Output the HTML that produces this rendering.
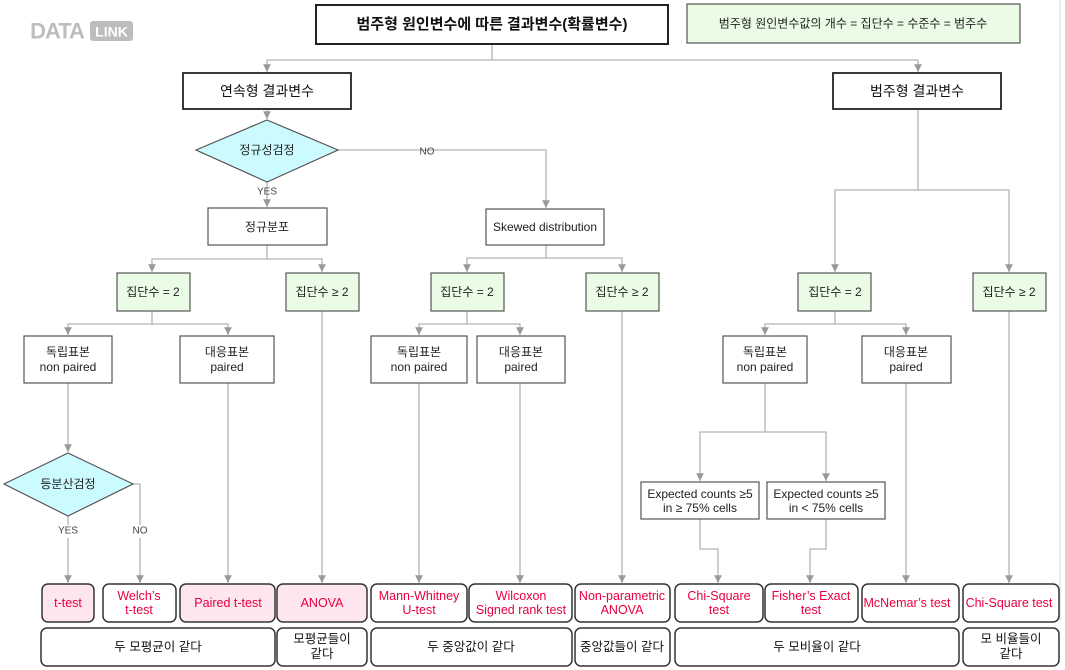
<!DOCTYPE html>
<html><head><meta charset="utf-8"><style>
html,body{margin:0;padding:0;background:#fff;width:1065px;height:670px;overflow:hidden}
svg{display:block}
text{font-family:"Liberation Sans","Noto Sans CJK KR",sans-serif;text-anchor:middle;dominant-baseline:central}
.ln{stroke:#b4b4b4;stroke-width:1.3;fill:none}
.bx{fill:#fff;stroke:#555;stroke-width:1.2}
.gr{fill:#eafbe6;stroke:#555;stroke-width:1.2}
.t12{font-size:12px;fill:#222}
.red{font-size:12.5px;fill:#e8003d}
.rb{fill:#fff;stroke:#333;stroke-width:1.5}
.pk{fill:#fde6f0;stroke:#333;stroke-width:1.5}
</style></head><body>
<svg width="1065" height="670" viewBox="0 0 1065 670">
<defs><marker id="a" markerWidth="6" markerHeight="6" refX="3" refY="5" orient="auto" markerUnits="userSpaceOnUse"><path d="M0,0 L6,0 L3,6z" fill="#999"/></marker>
<marker id="d" viewBox="0 0 6 6" markerWidth="6" markerHeight="6" refX="3" refY="6" orient="0"><path d="M0,0 L6,0 L3,6z" fill="#999"/></marker></defs>

<!-- logo -->
<text x="57" y="31" style="font-size:22px;font-weight:bold;fill:#bdbdbd;letter-spacing:-1px">DATA</text>
<rect x="90" y="21" width="43" height="20" rx="3" fill="#bdbdbd"/>
<text x="111.5" y="31.5" style="font-size:14px;font-weight:bold;fill:#fff">LINK</text>
<line x1="1060" y1="0" x2="1060" y2="620" stroke="#e6e6e6" stroke-width="1.5"/>

<!-- connectors -->
<g class="ln">
<path d="M492,44 V60 M267,60 H918"/>
<path d="M267,60 V72" marker-end="url(#d)"/><path d="M918,60 V72" marker-end="url(#d)"/>
<path d="M267,109 V119" marker-end="url(#d)"/>
<path d="M338,150 H546 V208" marker-end="url(#d)"/>
<path d="M267,182 V207" marker-end="url(#d)"/>
<path d="M267,245 V259 H152 V272" marker-end="url(#d)"/><path d="M267,259 H322 V272" marker-end="url(#d)"/>
<path d="M152,311 V324 H68 V335" marker-end="url(#d)"/><path d="M152,324 H228 V335" marker-end="url(#d)"/>
<path d="M68,383 V452" marker-end="url(#d)"/>
<path d="M133,484 H140 V525 M140,538 V583" marker-end="url(#d)"/>
<path d="M68,516 V525 M68,538 V583" marker-end="url(#d)"/>
<path d="M228,383 V583" marker-end="url(#d)"/>
<path d="M322,311 V583" marker-end="url(#d)"/>
<path d="M546,245 V258 H467 V272" marker-end="url(#d)"/><path d="M546,258 H622 V272" marker-end="url(#d)"/>
<path d="M467,311 V324 H419 V335" marker-end="url(#d)"/><path d="M467,324 H520 V335" marker-end="url(#d)"/>
<path d="M419,383 V583" marker-end="url(#d)"/><path d="M520,383 V583" marker-end="url(#d)"/>
<path d="M622,311 V583" marker-end="url(#d)"/>
<path d="M918,109 V190 H835 V272" marker-end="url(#d)"/><path d="M918,190 H1009 V272" marker-end="url(#d)"/>
<path d="M835,311 V324 H765 V335" marker-end="url(#d)"/><path d="M835,324 H906 V335" marker-end="url(#d)"/>
<path d="M765,383 V432 H700 V481" marker-end="url(#d)"/><path d="M765,432 H826 V481" marker-end="url(#d)"/>
<path d="M700,519 V549 H718 V583" marker-end="url(#d)"/><path d="M826,519 V549 H810 V583" marker-end="url(#d)"/>
<path d="M906,383 V583" marker-end="url(#d)"/>
<path d="M1009,311 V583" marker-end="url(#d)"/>
</g>
<text x="427" y="152" style="font-size:10px;fill:#444">NO</text>
<text x="267" y="192" style="font-size:10px;fill:#444">YES</text>
<text x="68" y="531" style="font-size:10px;fill:#444">YES</text>
<text x="140" y="531" style="font-size:10px;fill:#444">NO</text>

<!-- top -->
<rect x="316" y="5" width="352" height="39" fill="#fff" stroke="#222" stroke-width="2"/>
<text x="492" y="24.5" style="font-size:15px;font-weight:bold;fill:#111">범주형 원인변수에 따른 결과변수(확률변수)</text>
<rect x="687" y="4" width="333" height="39" class="gr"/>
<text x="853" y="23.5" class="t12">범주형 원인변수값의 개수 = 집단수 = 수준수 = 범주수</text>
<rect x="183" y="73" width="168" height="36" fill="#fff" stroke="#222" stroke-width="1.8"/>
<text x="267" y="91" style="font-size:14px;fill:#111">연속형 결과변수</text>
<rect x="833" y="73" width="168" height="36" fill="#fff" stroke="#222" stroke-width="1.8"/>
<text x="917" y="91" style="font-size:14px;fill:#111">범주형 결과변수</text>

<polygon points="196,150 267,120 338,150 267,182" fill="#ccfbff" stroke="#555" stroke-width="1.2"/>
<text x="267" y="150" class="t12">정규성검정</text>
<rect x="208" y="208" width="119" height="37" class="bx"/><text x="267" y="227" class="t12">정규분포</text>
<rect x="486" y="209" width="118" height="36" class="bx"/><text x="545" y="227" class="t12">Skewed distribution</text>

<rect x="117" y="273" width="73" height="38" class="gr"/><text x="153" y="292" class="t12">집단수 = 2</text>
<rect x="286" y="273" width="73" height="38" class="gr"/><text x="322" y="292" class="t12">집단수 ≥ 2</text>
<rect x="431" y="273" width="73" height="38" class="gr"/><text x="467" y="292" class="t12">집단수 = 2</text>
<rect x="586" y="273" width="73" height="38" class="gr"/><text x="622" y="292" class="t12">집단수 ≥ 2</text>
<rect x="798" y="273" width="73" height="38" class="gr"/><text x="835" y="292" class="t12">집단수 = 2</text>
<rect x="973" y="273" width="73" height="38" class="gr"/><text x="1009" y="292" class="t12">집단수 ≥ 2</text>

<g class="t12">
<rect x="24" y="336" width="88" height="47" class="bx"/><text x="68" y="352">독립표본</text><text x="68" y="367">non paired</text>
<rect x="180" y="336" width="94" height="47" class="bx"/><text x="227" y="352">대응표본</text><text x="227" y="367">paired</text>
<rect x="371" y="336" width="96" height="47" class="bx"/><text x="419" y="352">독립표본</text><text x="419" y="367">non paired</text>
<rect x="477" y="336" width="88" height="47" class="bx"/><text x="521" y="352">대응표본</text><text x="521" y="367">paired</text>
<rect x="723" y="336" width="84" height="47" class="bx"/><text x="765" y="352">독립표본</text><text x="765" y="367">non paired</text>
<rect x="862" y="336" width="89" height="47" class="bx"/><text x="906" y="352">대응표본</text><text x="906" y="367">paired</text>
<rect x="641" y="482" width="118" height="37" class="bx"/><text x="700" y="494">Expected counts ≥5</text><text x="700" y="508">in ≥ 75% cells</text>
<rect x="767" y="482" width="118" height="37" class="bx"/><text x="826" y="494">Expected counts ≥5</text><text x="826" y="508">in &lt; 75% cells</text>
</g>
<polygon points="4,484 68,453 133,484 68,516" fill="#ccfbff" stroke="#555" stroke-width="1.2"/>
<text x="68" y="484" class="t12">등분산검정</text>

<!-- bottom tests -->
<rect x="42" y="584" width="52" height="38" rx="6" class="pk"/><text x="68" y="603" class="red">t-test</text>
<rect x="103" y="584" width="73" height="38" rx="6" class="rb"/><text x="139" y="596" class="red">Welch’s</text><text x="139" y="610" class="red">t-test</text>
<rect x="180" y="584" width="95" height="38" rx="6" class="pk"/><text x="228" y="603" class="red">Paired t-test</text>
<rect x="277" y="584" width="90" height="38" rx="6" class="pk"/><text x="322" y="603" class="red">ANOVA</text>
<rect x="371" y="584" width="96" height="38" rx="6" class="rb"/><text x="419" y="596" class="red">Mann-Whitney</text><text x="419" y="610" class="red">U-test</text>
<rect x="469" y="584" width="103" height="38" rx="6" class="rb"/><text x="521" y="596" class="red">Wilcoxon</text><text x="521" y="610" class="red">Signed rank test</text>
<rect x="575" y="584" width="95" height="38" rx="6" class="rb"/><text x="622" y="596" class="red">Non-parametric</text><text x="622" y="610" class="red">ANOVA</text>
<rect x="675" y="584" width="88" height="38" rx="6" class="rb"/><text x="719" y="596" class="red">Chi-Square</text><text x="719" y="610" class="red">test</text>
<rect x="765" y="584" width="93" height="38" rx="6" class="rb"/><text x="811" y="596" class="red">Fisher’s Exact</text><text x="811" y="610" class="red">test</text>
<rect x="862" y="584" width="97" height="38" rx="6" class="rb"/><text x="907" y="603" class="red">McNemar’s test</text>
<rect x="963" y="584" width="96" height="38" rx="6" class="rb"/><text x="1009" y="603" class="red">Chi-Square test</text>

<g style="font-size:12.5px">
<rect x="41" y="628" width="234" height="38" rx="6" class="rb"/><text x="158" y="647" fill="#111">두 모평균이 같다</text>
<rect x="277" y="628" width="90" height="38" rx="6" class="rb"/><text x="322" y="639" fill="#111">모평균들이</text><text x="322" y="654" fill="#111">같다</text>
<rect x="371" y="628" width="201" height="38" rx="6" class="rb"/><text x="471" y="647" fill="#111">두 중앙값이 같다</text>
<rect x="575" y="628" width="95" height="38" rx="6" class="rb"/><text x="622" y="647" fill="#111">중앙값들이 같다</text>
<rect x="675" y="628" width="284" height="38" rx="6" class="rb"/><text x="817" y="647" fill="#111">두 모비율이 같다</text>
<rect x="963" y="628" width="96" height="38" rx="6" class="rb"/><text x="1011" y="639" fill="#111">모 비율들이</text><text x="1011" y="654" fill="#111">같다</text>
</g>
</svg>
</body></html>
